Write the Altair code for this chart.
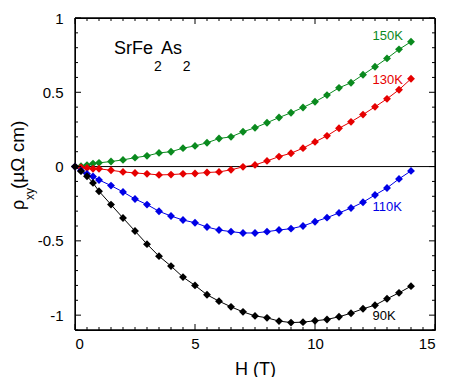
import altair as alt
import pandas as pd

# ---- data ----
H = [0, 0.25, 0.5, 0.75, 1, 1.5, 2, 2.5, 3, 3.5, 4, 4.5, 5, 5.5, 6, 6.5, 7, 7.5,
     8, 8.5, 9, 9.5, 10, 10.5, 11, 11.5, 12, 12.5, 13, 13.5, 14]
rho_150K = [0, 0.002, 0.01, 0.02, 0.025, 0.034, 0.045, 0.06, 0.072, 0.092, 0.10, 0.124,
            0.139, 0.16, 0.189, 0.20, 0.234, 0.261, 0.295, 0.33, 0.362, 0.398, 0.436,
            0.481, 0.53, 0.564, 0.618, 0.672, 0.728, 0.789, 0.84]
rho_130K = [0, -0.005, -0.01, -0.015, -0.015, -0.025, -0.036, -0.043, -0.049, -0.056,
            -0.054, -0.049, -0.047, -0.04, -0.036, -0.022, -0.002, 0.011, 0.038, 0.067,
            0.09, 0.124, 0.166, 0.207, 0.258, 0.301, 0.35, 0.402, 0.456, 0.517, 0.591]
rho_110K = [0, -0.027, -0.049, -0.067, -0.09, -0.128, -0.171, -0.218, -0.256, -0.301,
            -0.333, -0.36, -0.378, -0.407, -0.427, -0.438, -0.447, -0.447, -0.438, -0.427,
            -0.418, -0.4, -0.371, -0.344, -0.312, -0.279, -0.24, -0.191, -0.144, -0.083,
            -0.029]
rho_90K = [0, -0.031, -0.065, -0.11, -0.166, -0.256, -0.346, -0.434, -0.522, -0.603,
           -0.67, -0.744, -0.8, -0.863, -0.906, -0.944, -0.978, -1.005, -1.018, -1.04,
           -1.05, -1.047, -1.038, -1.029, -1.011, -0.987, -0.957, -0.933, -0.89, -0.85,
           -0.805]

series_names = ["150K", "130K", "110K", "90K"]
series_values = [rho_150K, rho_130K, rho_110K, rho_90K]
series_colors = ["#0a8a1e", "#e60000", "#0000e6", "#000000"]

label_x = [12.4, 12.4, 12.4, 12.4]
label_y = [0.877, 0.58, -0.27, -1.005]

x_domain = [0, 15]
y_domain = [-1.1, 1.0]
x_major = [0, 5, 10, 15]
x_minor = [v * 0.5 for v in range(31) if v % 10 != 0]
y_major = [-1.0, -0.5, 0.0, 0.5, 1.0]
y_minor = [round(-1.1 + 0.1 * i, 2) for i in range(22)]
y_minor = [v for v in y_minor if abs(v * 2 - round(v * 2)) > 1e-6]

W, Hh = 360, 312
FONT = "Liberation Sans"

rows = []
for name, vals in zip(series_names, series_values):
    for h, r in zip(H, vals):
        rows.append({"H": h, "rho": r, "T": name})
df = pd.DataFrame(rows)

xscale = alt.Scale(domain=x_domain, nice=False, zero=False)
yscale = alt.Scale(domain=y_domain, nice=False, zero=False)
cscale = alt.Scale(domain=series_names, range=series_colors)

xaxis = alt.Axis(values=x_major, ticks=False, domain=False, grid=False,
                 labelFont=FONT, labelFontSize=15, labelColor="black",
                 labelPadding=6, title="H (T)", titleFont=FONT,
                 titleFontSize=18, titleFontWeight="normal", titleColor="black",
                 titlePadding=9)
yaxis = alt.Axis(values=y_major, ticks=False, domain=False, grid=False,
                 labelFont=FONT, labelFontSize=15, labelColor="black",
                 labelPadding=12, labelExpr="'' + datum.value", title=None)


def X(field):
    return alt.X(field, scale=xscale, axis=xaxis)


def Y(field):
    return alt.Y(field, scale=yscale, axis=yaxis)


base = alt.Chart(df)
lines = base.mark_line(strokeWidth=1).encode(
    x=X("H:Q"), y=Y("rho:Q"),
    color=alt.Color("T:N", scale=cscale, legend=None),
    detail="T:N")
points = base.mark_point(shape="diamond", filled=True, size=62, opacity=1).encode(
    x=X("H:Q"), y=Y("rho:Q"),
    color=alt.Color("T:N", scale=cscale, legend=None))

zero = alt.Chart(pd.DataFrame({"z": [0]})).mark_rule(color="black", strokeWidth=1).encode(
    y=Y("z:Q"))

# plot frame: full-span rules at the domain limits (same form as the zero line)
frame_h = alt.Chart(pd.DataFrame({"fy": y_domain})).mark_rule(
    color="black", strokeWidth=1.3).encode(y=Y("fy:Q"))
frame_v = alt.Chart(pd.DataFrame({"fx": x_domain})).mark_rule(
    color="black", strokeWidth=1.3).encode(x=X("fx:Q"))

lab_df = pd.DataFrame({"x": label_x, "y": label_y, "t": series_names})
labels = alt.Chart(lab_df).mark_text(font=FONT, fontSize=13, align="left",
                                     baseline="middle").encode(
    x=X("x:Q"), y=Y("y:Q"),
    text="t:N", color=alt.Color("t:N", scale=cscale, legend=None))

# compound title SrFe2As2
comp_parts = ["SrFe", "2", "As", "2"]
comp_x = [1.62, 3.29, 3.58, 4.49]
comp_y = [0.76, 0.646, 0.76, 0.646]
comp_size = [18, 14, 18, 14]
comp_layers = []
for t, xx, yy, fs in zip(comp_parts, comp_x, comp_y, comp_size):
    comp_layers.append(
        alt.Chart(pd.DataFrame({"x": [xx], "y": [yy], "t": [t]})).mark_text(
            font=FONT, fontSize=fs, align="left", baseline="alphabetic", color="black").encode(
            x=X("x:Q"), y=Y("y:Q"), text="t:N"))

# y-axis title: rho_xy (muOmega cm), rotated
yt_parts = ["ρ", "xy", "(μΩ cm)"]
yt_px = [-51, -41, -51]
yt_py = [192, 182, 171]
yt_size = [18, 12, 19]
yt_layers = []
for t, px, py, fs in zip(yt_parts, yt_px, yt_py, yt_size):
    yt_layers.append(
        alt.Chart(pd.DataFrame({"t": [t]})).mark_text(
            font=FONT, fontSize=fs, align="left", baseline="alphabetic", angle=270,
            color="black").encode(x=alt.value(px), y=alt.value(py), text="t:N"))


# inward ticks on all four sides
def xticks(vals, ln):
    d = pd.DataFrame({"v": vals})
    bot = alt.Chart(d).mark_rule(color="black", strokeWidth=1).encode(
        x=X("v:Q"), y=alt.value(Hh), y2=alt.value(Hh - ln))
    top = alt.Chart(d).mark_rule(color="black", strokeWidth=1).encode(
        x=X("v:Q"), y=alt.value(0), y2=alt.value(ln))
    return [bot, top]


def yticks(vals, ln):
    d = pd.DataFrame({"v": vals})
    left = alt.Chart(d).mark_rule(color="black", strokeWidth=1).encode(
        y=Y("v:Q"), x=alt.value(0), x2=alt.value(ln))
    right = alt.Chart(d).mark_rule(color="black", strokeWidth=1).encode(
        y=Y("v:Q"), x=alt.value(W), x2=alt.value(W - ln))
    return [left, right]


tick_layers = xticks(x_major, 6) + xticks(x_minor, 3) + yticks(y_major, 6) + yticks(y_minor, 3)

chart = alt.layer(lines, zero, frame_h, frame_v, points, labels, *comp_layers, *yt_layers,
                  *tick_layers).properties(
    width=W, height=Hh,
    autosize=alt.AutoSizeParams(type="none"),
    padding={"left": 67, "top": 10, "right": 7, "bottom": 47},
    background="white",
).configure_view(stroke="black", strokeWidth=1)

chart.save("out.html", embed_options={"renderer": "svg", "actions": False})
